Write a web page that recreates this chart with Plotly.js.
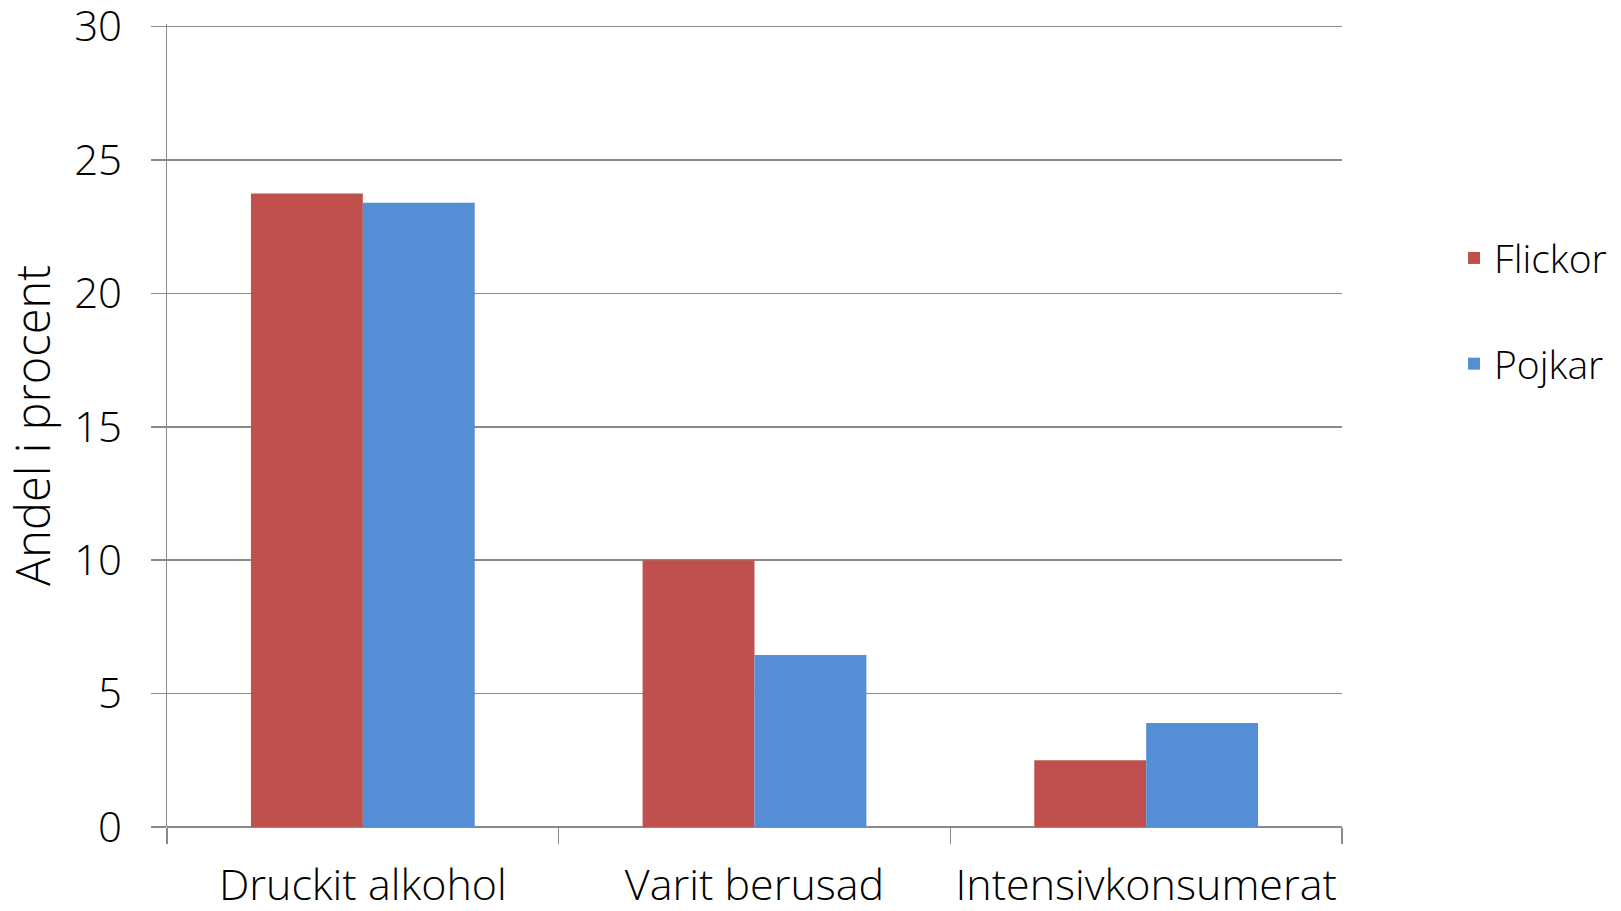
<!DOCTYPE html>
<html>
<head>
<meta charset="utf-8">
<script src="https://cdn.plot.ly/plotly-3.0.1.min.js"></script>
<style>html,body{margin:0;padding:0;background:#fff;}#chart{width:1621px;height:911px;}</style>
</head>
<body>
<div id="chart"></div>
<script>
const categories = ["Druckit alkohol", "Varit berusad", "Intensivkonsumerat"];
const flickor = [23.75, 10.0, 2.5];
const pojkar = [23.4, 6.45, 3.9];
const seriesNames = ["Flickor", "Pojkar"];
const yTicks = [0, 5, 10, 15, 20, 25, 30];

const FONT = "'Open Sans', 'Noto Sans', sans-serif";
const GRID = "#8a8a8a";

const traces = [
  {type: "bar", name: seriesNames[0], x: categories, y: flickor,
   marker: {color: "#C0504D"}, legendgroup: "a"},
  {type: "bar", name: seriesNames[1], x: categories, y: pojkar,
   marker: {color: "#558ED5"}, legendgroup: "b"}
];

const layout = {
  width: 1621, height: 911,
  margin: {l: 167, r: 279, t: 24, b: 84},
  paper_bgcolor: "#fff", plot_bgcolor: "#fff",
  font: {family: FONT, size: 42, color: "#000", weight: 300},
  barmode: "group",
  bargap: 0.4286, bargroupgap: 0,
  showlegend: true,
  legend: {xref: "container", yref: "container", x: 0.897, y: 0.6585, xanchor: "left", yanchor: "middle",
           font: {family: FONT, size: 39, color: "#000", weight: 300},
           traceorder: "grouped", tracegroupgap: 52, itemwidth: 30,
           bgcolor: "rgba(0,0,0,0)"},
  xaxis: {type: "category", automargin: false,
          showline: false, showgrid: false, zeroline: false,
          ticks: "outside", tickson: "boundaries", ticklen: 16, tickwidth: 1.5, tickcolor: GRID,
          ticklabelstandoff: 29, ticklabeloverflow: "allow",
          tickfont: {family: FONT, size: 43, color: "#000", weight: 300}},
  yaxis: {range: [0, 30.1], tickvals: yTicks, ticktext: yTicks.map(String),
          automargin: false,
          showline: true, linecolor: GRID, linewidth: 1.5,
          showgrid: true, gridcolor: GRID, gridwidth: 1.5,
          zeroline: true, zerolinecolor: GRID, zerolinewidth: 1.5,
          ticks: "outside", ticklen: 15, tickwidth: 1.5, tickcolor: GRID,
          ticklabelstandoff: 20, ticklabeloverflow: "allow",
          tickfont: {family: FONT, size: 42, color: "#000", weight: 300},
          title: {text: "Andel i procent", standoff: 14,
                  font: {family: FONT, size: 47, color: "#000", weight: 300}}}
};

Plotly.newPlot("chart", traces, layout, {displayModeBar: false, staticPlot: true});
</script>
</body>
</html>
